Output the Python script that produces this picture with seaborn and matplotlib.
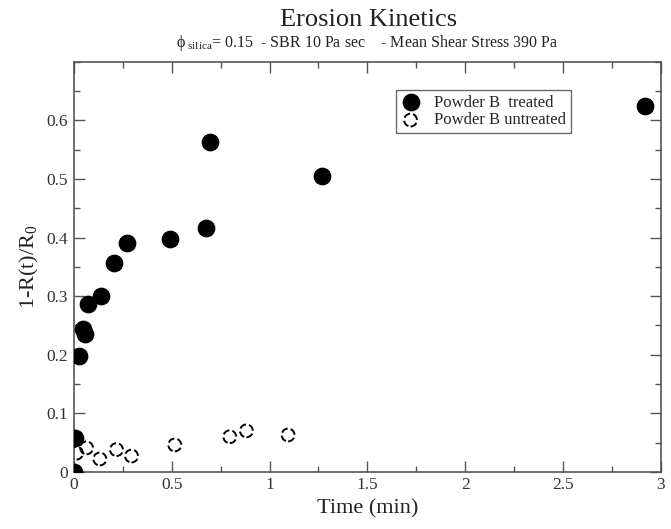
import pandas as pd
import seaborn as sns
import matplotlib.pyplot as plt
from matplotlib.ticker import MultipleLocator

# Data
treated_time = [0.0, 0.005, 0.025, 0.045, 0.055, 0.075, 0.14, 0.205, 0.27, 0.49, 0.675, 0.695, 1.27, 2.92]
treated_erosion = [0.0, 0.058, 0.197, 0.244, 0.235, 0.287, 0.300, 0.356, 0.391, 0.398, 0.416, 0.563, 0.505, 0.625]

untreated_time = [0.0, 0.014, 0.065, 0.133, 0.218, 0.295, 0.516, 0.797, 0.882, 1.095]
untreated_erosion = [0.0, 0.032, 0.041, 0.022, 0.038, 0.027, 0.046, 0.060, 0.070, 0.063]

x_ticks = [0, 0.5, 1, 1.5, 2, 2.5, 3]
x_tick_labels = ["0", "0.5", "1", "1.5", "2", "2.5", "3"]
y_ticks = [0, 0.1, 0.2, 0.3, 0.4, 0.5, 0.6]
y_tick_labels = ["0", "0.1", "0.2", "0.3", "0.4", "0.5", "0.6"]

sns.set_style("ticks")
plt.rcParams["font.family"] = ["Liberation Serif", "DejaVu Serif"]
plt.rcParams["mathtext.fontset"] = "custom"
plt.rcParams["mathtext.rm"] = "Liberation Serif"
plt.rcParams["mathtext.it"] = "Liberation Serif"

df_t = pd.DataFrame({"time": treated_time, "erosion": treated_erosion})
df_u = pd.DataFrame({"time": untreated_time, "erosion": untreated_erosion})

fig = plt.figure(figsize=(6.71, 5.29), dpi=100)
ax = fig.add_axes([0.110, 0.108, 0.875, 0.775])

sns.scatterplot(data=df_u, x="time", y="erosion", ax=ax, marker="o", s=85,
                facecolor="none", edgecolor="black", linewidth=1.4,
                linestyle="--", label="Powder B untreated", zorder=3)
sns.scatterplot(data=df_t, x="time", y="erosion", ax=ax, marker="o", s=140,
                color="black", edgecolor="black", label="Powder B  treated", zorder=4)

ax.set_xlim(0, 3)
ax.set_ylim(0, 0.7)
ax.set_xticks(x_ticks)
ax.set_xticklabels(x_tick_labels)
ax.set_yticks(y_ticks)
ax.set_yticklabels(y_tick_labels)
ax.xaxis.set_minor_locator(MultipleLocator(0.25))
ax.yaxis.set_minor_locator(MultipleLocator(0.05))
ax.tick_params(which="both", direction="in", top=True, right=True, colors="#555555",
               labelcolor="#333333", labelsize=12.5, pad=4)
ax.tick_params(which="major", length=8, width=1)
ax.tick_params(which="minor", length=4, width=1)
for sp in ax.spines.values():
    sp.set_color("#555555")
    sp.set_linewidth(1.2)

ax.set_xlabel("Time (min)", fontsize=16, color="#222222", labelpad=4)
ax.set_ylabel(r"1-R(t)/R$_0$", fontsize=16, color="#222222", labelpad=4)

fig.text(0.550, 0.950, "Erosion Kinetics", ha="center", fontsize=19, color="#222222")
fig.text(0.548, 0.912, r"$\phi$$_{\ \rm silica}$= 0.15  - SBR 10 Pa sec    - Mean Shear Stress 390 Pa",
         ha="center", fontsize=11.5, color="#222222")

handles, labels = ax.get_legend_handles_labels()
leg = ax.legend(handles[::-1], labels[::-1], loc="upper left", bbox_to_anchor=(0.548, 0.932),
                frameon=True, fancybox=False, edgecolor="#444444", fontsize=12,
                handletextpad=0.8, borderpad=0.3, labelspacing=0.1, handlelength=1.2,
                borderaxespad=0)
leg.get_frame().set_linewidth(1.0)

fig.savefig("out.png", dpi=100)
